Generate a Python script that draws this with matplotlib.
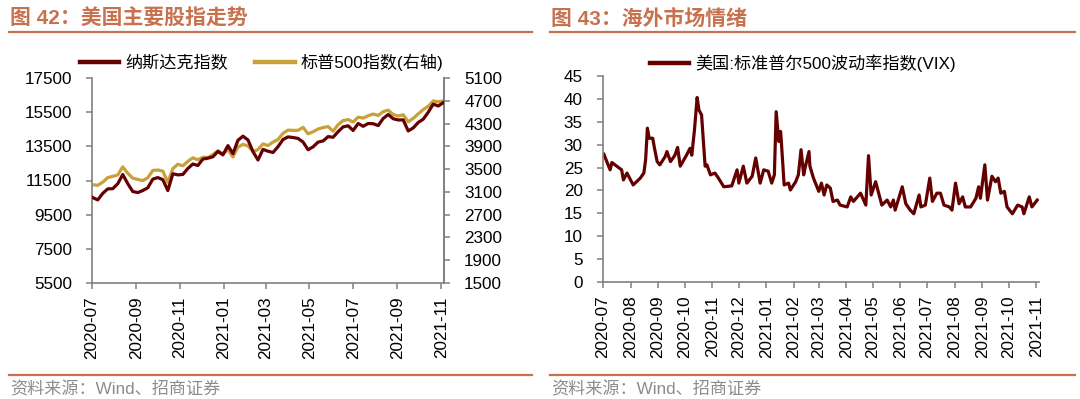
import matplotlib
matplotlib.use("Agg")
import matplotlib.pyplot as plt
import matplotlib.dates as mdates
from matplotlib.lines import Line2D
import pandas as pd

plt.rcParams['font.family'] = ['Liberation Sans', 'Noto Sans CJK SC', 'DejaVu Sans']

# ---------------- data ----------------
# weekly index levels (chart 42)
nasdaq = [10503, 10363, 10745, 11011, 11019, 11312, 11850, 11313, 10854, 10794,
          10914, 11075, 11580, 11672, 11548, 10912, 11895, 11829, 11855, 12206,
          12464, 12378, 12756, 12805, 12888, 13202, 12999, 13543, 13071, 13856,
          14095, 13874, 13192, 12700, 13320, 13215, 13139, 13480, 13900, 14052,
          14016, 13962, 13752, 13300, 13471, 13749, 13814, 14069, 14030, 14360,
          14639, 14701, 14427, 14837, 14673, 14835, 14823, 14714, 15130, 15363,
          15115, 15044, 15048, 14400, 14580, 14897, 15090, 15498, 15971, 15861,
          16057]
sp500 = [3225, 3216, 3271, 3351, 3373, 3397, 3540, 3427, 3341, 3319,
         3298, 3348, 3477, 3484, 3465, 3270, 3509, 3585, 3558, 3638,
         3699, 3663, 3709, 3703, 3756, 3825, 3768, 3841, 3714, 3887,
         3934, 3907, 3811, 3842, 3943, 3913, 3975, 4020, 4129, 4185,
         4180, 4181, 4233, 4120, 4156, 4204, 4230, 4247, 4166, 4281,
         4352, 4370, 4327, 4412, 4395, 4437, 4468, 4442, 4509, 4535,
         4459, 4433, 4455, 4330, 4391, 4471, 4545, 4605, 4697, 4683,
         4698]
idx_start = "2020-07-02"

# VIX (chart 43)
vix_dates = ["2020-07-02", "2020-07-09", "2020-07-11", "2020-07-22", "2020-07-24",
             "2020-07-28", "2020-08-04", "2020-08-12", "2020-08-16", "2020-08-18",
             "2020-08-20", "2020-08-22", "2020-08-26", "2020-08-28", "2020-08-31",
             "2020-09-03", "2020-09-09", "2020-09-11", "2020-09-15", "2020-09-20",
             "2020-09-23", "2020-09-26", "2020-10-03", "2020-10-07", "2020-10-09",
             "2020-10-12", "2020-10-15", "2020-10-17", "2020-10-20", "2020-10-24",
             "2020-10-26", "2020-10-30", "2020-11-04", "2020-11-08", "2020-11-14",
             "2020-11-23", "2020-11-29", "2020-12-01", "2020-12-06", "2020-12-10",
             "2020-12-16", "2020-12-20", "2020-12-25", "2020-12-29", "2021-01-03",
             "2021-01-07", "2021-01-10", "2021-01-12", "2021-01-15", "2021-01-17",
             "2021-01-18", "2021-01-21", "2021-01-26", "2021-01-28", "2021-02-03",
             "2021-02-06", "2021-02-09", "2021-02-12", "2021-02-14", "2021-02-18",
             "2021-02-19", "2021-02-23", "2021-03-01", "2021-03-04", "2021-03-07",
             "2021-03-10", "2021-03-14", "2021-03-17", "2021-03-22", "2021-03-25",
             "2021-04-02", "2021-04-06", "2021-04-09", "2021-04-17", "2021-04-23",
             "2021-04-26", "2021-04-29", "2021-05-04", "2021-05-08", "2021-05-11",
             "2021-05-17", "2021-05-21", "2021-05-24", "2021-05-26", "2021-06-03",
             "2021-06-07", "2021-06-12", "2021-06-16", "2021-06-22", "2021-06-24",
             "2021-06-29", "2021-07-04", "2021-07-07", "2021-07-12", "2021-07-16",
             "2021-07-20", "2021-07-26", "2021-07-29", "2021-08-02", "2021-08-06",
             "2021-08-10", "2021-08-13", "2021-08-19", "2021-08-25", "2021-08-28",
             "2021-08-30", "2021-09-04", "2021-09-07", "2021-09-12", "2021-09-16",
             "2021-09-19", "2021-09-22", "2021-09-26", "2021-09-29", "2021-10-05",
             "2021-10-11", "2021-10-16", "2021-10-18", "2021-10-24", "2021-10-27",
             "2021-11-02"]
vix = [27.9, 24.5, 26.1, 24.5, 22.3, 23.8, 21.2, 22.7, 23.8, 26.7,
       33.6, 31.4, 31.4, 29.2, 26.3, 25.6, 27.4, 28.5, 26.3, 27.7,
       29.4, 25.3, 27.7, 29.2, 27.7, 33.2, 40.3, 37.6, 36.5, 25.3,
       25.6, 23.4, 23.8, 22.7, 20.8, 21.0, 24.5, 21.6, 25.3, 21.6,
       23.1, 27.1, 21.6, 24.5, 24.2, 21.6, 23.4, 37.2, 30.7, 32.9,
       30.2, 21.2, 21.6, 20.1, 21.9, 23.4, 28.9, 23.4, 25.3, 28.5,
       25.3, 22.7, 19.8, 21.6, 19.0, 21.2, 20.5, 17.6, 17.9, 16.8,
       16.4, 18.6, 17.6, 19.4, 16.8, 27.6, 19.0, 21.9, 19.0, 16.8,
       17.9, 16.4, 17.9, 15.7, 20.8, 17.1, 15.7, 14.9, 19.0, 16.4,
       16.8, 22.7, 17.6, 19.4, 19.4, 16.8, 16.4, 15.7, 21.6, 17.1,
       18.6, 16.4, 16.4, 18.3, 20.8, 18.3, 25.6, 17.9, 23.1, 21.9,
       22.7, 19.4, 19.8, 16.4, 14.9, 16.8, 16.4, 14.9, 18.6, 16.4,
       17.9]

left_yticks = [5500, 7500, 9500, 11500, 13500, 15500, 17500]
right_yticks = [1500, 1900, 2300, 2700, 3100, 3500, 3900, 4300, 4700, 5100]
vix_yticks = [0, 5, 10, 15, 20, 25, 30, 35, 40, 45]

title_left = "图 42：美国主要股指走势"
title_right = "图 43：海外市场情绪"
source_text = "资料来源：Wind、招商证券"
label_nasdaq = "纳斯达克指数"
label_sp = "标普500指数(右轴)"
label_vix = "美国:标准普尔500波动率指数(VIX)"

# ---------------- style ----------------
W, H = 1080, 399
DARK = '#650000'
GOLD = '#C9A13B'
ORANGE = '#C8714F'
SPINE = '#808080'
FS = 12.3

def fx(px):
    return px / W

def fy(py):
    return 1 - py / H

fig = plt.figure(figsize=(W / 100, H / 100), dpi=100)

def style_axis(ax, right=False):
    for s in ['top']:
        ax.spines[s].set_visible(False)
    if not right:
        ax.spines['right'].set_visible(False)
    for s in ['left', 'bottom', 'right']:
        ax.spines[s].set_color(SPINE)
        ax.spines[s].set_linewidth(1.2)
    ax.tick_params(axis='both', colors=SPINE, labelcolor='black', labelsize=FS,
                   length=4.5, width=1.1, direction='out')
    ax.tick_params(axis='y', pad=10)
    ax.tick_params(axis='x', pad=5)

# headers
for x0, x1, t in [(9, 532, title_left), (550, 1075, title_right)]:
    fig.text(fx(x0 + 1), fy(19), t, color=ORANGE, fontsize=15, fontweight='bold',
             va='center', ha='left')
    fig.add_artist(Line2D([fx(x0), fx(x1)], [fy(32), fy(32)], color=ORANGE, lw=1.6))
    fig.add_artist(Line2D([fx(x0), fx(x1)], [fy(375), fy(375)], color=ORANGE, lw=1.6))
    fig.text(fx(x0 + 1), fy(389), source_text, color='#8C8C8C', fontsize=12.3,
             va='center', ha='left')

# ---------------- left chart ----------------
idx_dates = pd.date_range(idx_start, periods=len(nasdaq), freq='7D')
axL = fig.add_axes([fx(92), fy(283), fx(444) - fx(92), fy(78) - fy(283)])
l1, = axL.plot(idx_dates, nasdaq, color=DARK, lw=2.3, zorder=3)
axL.set_ylim(5500, 17500)
axL.set_yticks(left_yticks)
axL.set_xlim(pd.Timestamp('2020-07-01'), pd.Timestamp('2021-11-05'))
axL.xaxis.set_major_locator(mdates.MonthLocator(bymonth=[1, 3, 5, 7, 9, 11]))
axL.xaxis.set_major_formatter(mdates.DateFormatter('%Y-%m'))
style_axis(axL, right=True)
for lab in axL.get_xticklabels():
    lab.set_rotation(90)

axR = axL.twinx()
l2, = axR.plot(idx_dates, sp500, color=GOLD, lw=2.3, zorder=2)
axR.set_ylim(1500, 5100)
axR.set_yticks(right_yticks)
style_axis(axR, right=True)
axR.spines['left'].set_visible(False)
axR.spines['bottom'].set_visible(False)
axL.set_zorder(axR.get_zorder() + 1)
axL.patch.set_visible(False)

fig.legend([l1, l2], [label_nasdaq, label_sp], loc='center left',
           bbox_to_anchor=(fx(80), fy(62)), ncol=2, frameon=False, fontsize=FS,
           handlelength=2.3, handletextpad=0.35, columnspacing=1.6, borderpad=0,
           borderaxespad=0)
for h in fig.legends[-1].legend_handles:
    h.set_linewidth(3.2)

# ---------------- right chart ----------------
axV = fig.add_axes([fx(603), fy(282), fx(1039) - fx(603), fy(76) - fy(282)])
l3, = axV.plot(pd.to_datetime(vix_dates), vix, color=DARK, lw=2.3)
axV.set_ylim(0, 45)
axV.set_yticks(vix_yticks)
axV.set_xlim(pd.Timestamp('2020-07-01'), pd.Timestamp('2021-11-04'))
axV.xaxis.set_major_locator(mdates.MonthLocator())
axV.xaxis.set_major_formatter(mdates.DateFormatter('%Y-%m'))
style_axis(axV)
for lab in axV.get_xticklabels():
    lab.set_rotation(90)

fig.legend([l3], [label_vix], loc='center left',
           bbox_to_anchor=(fx(650), fy(63)), ncol=1, frameon=False, fontsize=FS,
           handlelength=2.3, handletextpad=0.35, borderpad=0, borderaxespad=0)
for h in fig.legends[-1].legend_handles:
    h.set_linewidth(3.2)

fig.savefig('out.png', dpi=100)
